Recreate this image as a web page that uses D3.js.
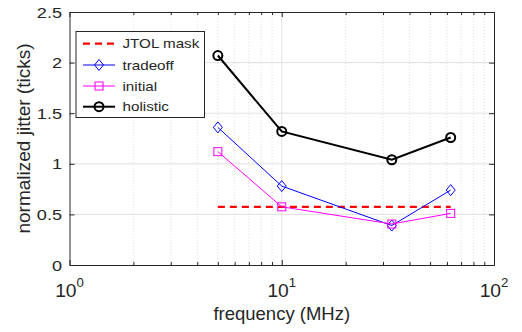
<!DOCTYPE html>
<html>
<head>
<meta charset="utf-8">
<script src="https://cdn.jsdelivr.net/npm/d3@7"></script>
<style>
  body { margin: 0; background: #fff; }
  text { font-family: "Liberation Sans", Arial, Helvetica, sans-serif; fill: #262626; }
</style>
</head>
<body>
<div class="chart"></div>
<script>
// data
const freq = [5, 10, 33, 62.5];
const jtolMask = [0.575, 0.575, 0.575, 0.575];
const tradeoff = [1.36, 0.78, 0.39, 0.74];
const initial = [1.12, 0.575, 0.405, 0.51];
const holistic = [2.07, 1.32, 1.04, 1.26];

const yTicks = [0, 0.5, 1, 1.5, 2, 2.5];
const yTickLabels = ["0", "0.5", "1", "1.5", "2", "2.5"];
const xTicks = [1, 10, 100];
const xTickExp = ["0", "1", "2"];
const xMinor = [2,3,4,5,6,7,8,9,20,30,40,50,60,70,80,90];

const series = [
  {name: "JTOL mask", values: jtolMask, color: "#ff0000", width: 2.2, dash: "7,5", marker: null},
  {name: "tradeoff", values: tradeoff, color: "#0000ff", width: 1, dash: null, marker: "diamond"},
  {name: "initial", values: initial, color: "#ff00ff", width: 1, dash: null, marker: "square"},
  {name: "holistic", values: holistic, color: "#000000", width: 2, dash: null, marker: "circle"}
];

var w = 522, h = 332;
const mLeft = 69.5, mRight = 494, mTop = 12, mBottom = 265;
const stretch = 1.17;

var svg = d3.select(".chart").append("svg")
  .attr("width", w).attr("height", h);

const x = d3.scaleLog().domain([1, 100]).range([mLeft, mRight]);
const y = d3.scaleLinear().domain([0, 2.5]).range([mBottom, mTop]);

// grid
const grid = svg.append("g");
grid.selectAll(".xminor").data(xMinor).enter().append("line")
  .attr("x1", d => x(d)).attr("x2", d => x(d))
  .attr("y1", mTop).attr("y2", mBottom)
  .attr("stroke", "#d4d4d4").attr("stroke-width", 0.8)
  .attr("stroke-dasharray", "1,2");
grid.selectAll(".xmajor").data([10]).enter().append("line")
  .attr("x1", d => x(d)).attr("x2", d => x(d))
  .attr("y1", mTop).attr("y2", mBottom)
  .attr("stroke", "#e0e0e0").attr("stroke-width", 1);
grid.selectAll(".ymajor").data(yTicks.slice(1, -1)).enter().append("line")
  .attr("x1", mLeft).attr("x2", mRight)
  .attr("y1", d => y(d)).attr("y2", d => y(d))
  .attr("stroke", "#e0e0e0").attr("stroke-width", 1);

// axes with inward ticks on all four sides
function styleAxis(g) {
  g.selectAll("text").remove();
  g.selectAll("path, line").attr("stroke", "#262626");
}
svg.append("g").attr("transform", `translate(0,${mBottom})`)
  .call(d3.axisBottom(x).tickValues(xTicks).tickSize(-5).tickSizeOuter(0)).call(styleAxis);
svg.append("g").attr("transform", `translate(0,${mBottom})`)
  .call(d3.axisBottom(x).tickValues(xMinor).tickSize(-3).tickSizeOuter(0)).call(styleAxis);
svg.append("g").attr("transform", `translate(0,${mTop})`)
  .call(d3.axisTop(x).tickValues(xTicks).tickSize(-5).tickSizeOuter(0)).call(styleAxis);
svg.append("g").attr("transform", `translate(0,${mTop})`)
  .call(d3.axisTop(x).tickValues(xMinor).tickSize(-3).tickSizeOuter(0)).call(styleAxis);
svg.append("g").attr("transform", `translate(${mLeft},0)`)
  .call(d3.axisLeft(y).tickValues(yTicks).tickSize(-5).tickSizeOuter(0)).call(styleAxis);
svg.append("g").attr("transform", `translate(${mRight},0)`)
  .call(d3.axisRight(y).tickValues(yTicks).tickSize(-5).tickSizeOuter(0)).call(styleAxis);

// tick labels
svg.selectAll(".ylab").data(yTicks).enter().append("text")
  .attr("transform", d => `translate(62,${y(d)}) scale(${stretch},1)`)
  .attr("text-anchor", "end").attr("dy", "0.36em")
  .style("font-size", "15.5px")
  .text((d, i) => yTickLabels[i]);

const xl = svg.selectAll(".xlab").data(xTicks).enter().append("text")
  .attr("transform", d => `translate(${x(d)},297) scale(1.1,1)`)
  .attr("text-anchor", "middle")
  .style("font-size", "17.5px");
xl.append("tspan").text("10");
xl.append("tspan").attr("dy", -10).style("font-size", "12px").text((d, i) => xTickExp[i]);

// axis labels
svg.append("text")
  .attr("transform", `translate(${(mLeft + mRight) / 2},320)`)
  .attr("text-anchor", "middle")
  .style("font-size", "18.5px")
  .text("frequency (MHz)");
svg.append("text")
  .attr("transform", `translate(30,${(mTop + mBottom) / 2}) rotate(-90)`)
  .attr("text-anchor", "middle")
  .style("font-size", "19px")
  .text("normalized jitter (ticks)");

// markers
function drawMarker(g, type, color, cx, cy) {
  if (type === "diamond") {
    g.append("path")
      .attr("d", `M${cx},${cy - 5.5}L${cx + 4.5},${cy}L${cx},${cy + 5.5}L${cx - 4.5},${cy}Z`)
      .attr("fill", "none").attr("stroke", color).attr("stroke-width", 1);
  } else if (type === "square") {
    g.append("rect")
      .attr("x", cx - 4).attr("y", cy - 4).attr("width", 8).attr("height", 8)
      .attr("fill", "none").attr("stroke", color).attr("stroke-width", 1);
  } else if (type === "circle") {
    g.append("circle")
      .attr("cx", cx).attr("cy", cy).attr("r", 4.5)
      .attr("fill", "none").attr("stroke", color).attr("stroke-width", 2);
  }
}

const line = d3.line().x(d => x(d[0])).y(d => y(d[1]));
series.forEach(s => {
  const pts = freq.map((f, i) => [f, s.values[i]]);
  const g = svg.append("g");
  g.append("path").datum(pts)
    .attr("d", line)
    .attr("fill", "none")
    .attr("stroke", s.color)
    .attr("stroke-width", s.width)
    .attr("stroke-dasharray", s.dash);
  if (s.marker) pts.forEach(p => drawMarker(g, s.marker, s.color, x(p[0]), y(p[1])));
});

// legend
const lg = svg.append("g");
lg.append("rect")
  .attr("x", 76).attr("y", 31.5).attr("width", 128.5).attr("height", 86)
  .attr("fill", "#fff").attr("stroke", "#262626").attr("stroke-width", 1);
const rowY = [43.7, 65, 86, 106.7];
series.forEach((s, i) => {
  lg.append("line")
    .attr("x1", 83).attr("x2", 115).attr("y1", rowY[i]).attr("y2", rowY[i])
    .attr("stroke", s.color).attr("stroke-width", s.width)
    .attr("stroke-dasharray", s.dash);
  if (s.marker) drawMarker(lg, s.marker, s.color, 99, rowY[i]);
  lg.append("text")
    .attr("transform", `translate(122.5,${rowY[i]}) scale(${stretch},1)`)
    .attr("dy", "0.36em")
    .style("font-size", "13px")
    .text(s.name);
});
</script>
</body>
</html>
